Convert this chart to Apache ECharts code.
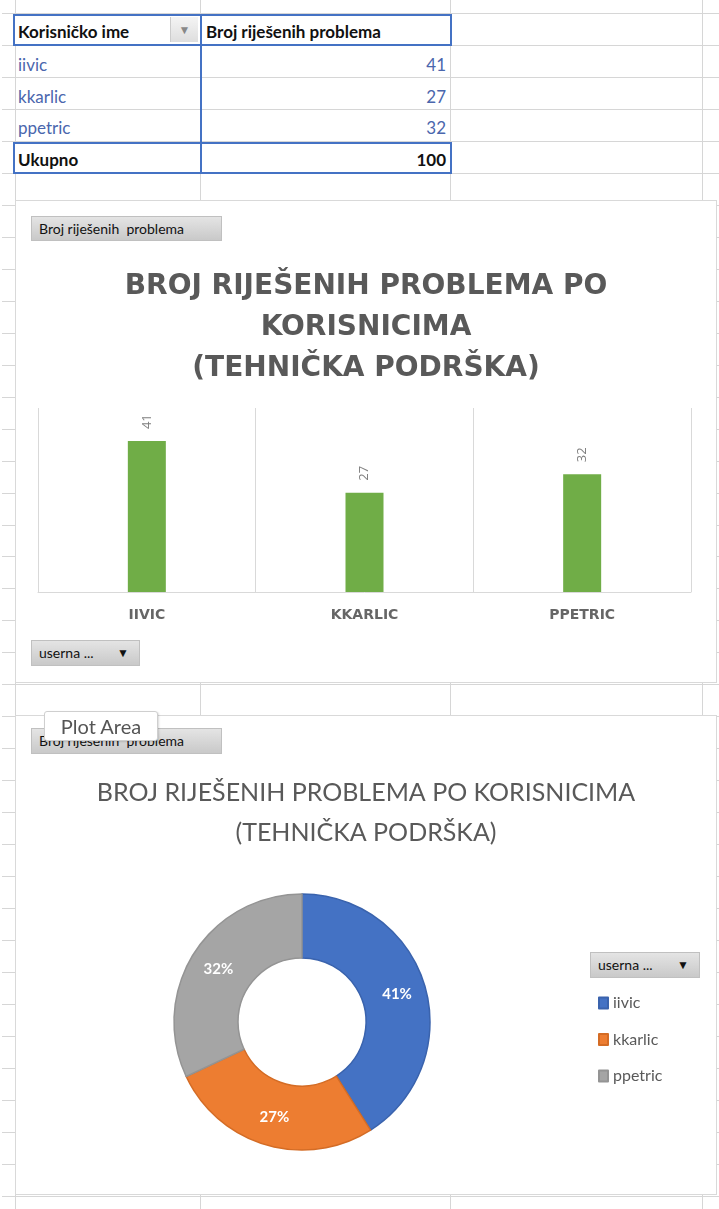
<!DOCTYPE html>
<html>
<head>
<meta charset="utf-8">
<script src="https://cdn.jsdelivr.net/npm/echarts@6/dist/echarts.min.js"></script>
<style>
    body { margin: 0; background: #fff; width: 719px; height: 1209px; position: relative; overflow: hidden; font-family: Lato, "Open Sans", sans-serif; }
    .gl { position: absolute; background: #d6d6d6; }
    .cell { position: absolute; font-size: 17px; line-height: 30px; white-space: nowrap; }
    .chartbox { position: absolute; background: #fff; border: 1px solid #d9d9d9; z-index: 2; }
    .btn { position: absolute; z-index: 3; background: linear-gradient(#e4e4e4, #c9c9c9); border: 1px solid #c0c0c0; font-size: 14px; color: #111; line-height: 24px; padding-left: 7px; box-sizing: border-box; white-space: nowrap; }
    .btn .arr { position: absolute; right: 10px; top: 0; font-size: 12px; }
</style>
</head>
<body>
<div id="sheet"></div>

<div id="bar" class="chartbox" style="left:15px;top:200px;width:700px;height:481px"></div>
<div id="pie" class="chartbox" style="left:15px;top:715px;width:700px;height:478px"></div>

<div class="btn" style="left:31px;top:216px;width:191px;height:25px">Broj riješenih&nbsp; problema</div>
<div class="btn" style="left:31px;top:640px;width:109px;height:26px">userna ...<span class="arr">▼</span></div>
<div class="btn" style="left:31px;top:728px;width:191px;height:26px">Broj riješenih&nbsp; problema</div>
<div class="btn" style="left:590px;top:952px;width:110px;height:26px">userna ...<span class="arr">▼</span></div>
<div style="position:absolute;z-index:4;left:44px;top:711px;width:112px;height:28px;background:#fff;border:1px solid #cfcfcf;border-radius:3px;box-shadow:1px 1px 2px rgba(0,0,0,0.15);color:#555;font-size:20px;line-height:28px;text-align:center">Plot Area</div>

<script>
    // podaci iz tablice
    var korisnici = ['iivic', 'kkarlic', 'ppetric'];
    var rijeseno = [41, 27, 32];
    var boje = ['#4472C4', '#ED7D31', '#A5A5A5'];
    var rubovi = ['#3a63ad', '#d46c25', '#949494'];
    var naslov1 = 'BROJ RIJEŠENIH PROBLEMA PO\nKORISNICIMA\n(TEHNIČKA PODRŠKA)';
    var naslov2 = 'BROJ RIJEŠENIH PROBLEMA PO KORISNICIMA\n(TEHNIČKA PODRŠKA)';

    // excel mreza u pozadini
    var sheet = document.getElementById('sheet');
    var html = '';
    for (var k = 0; k < 38; k++) {
        var y = Math.round(13 + k * 31.97);
        html += '<div class="gl" style="left:15px;top:' + y + 'px;width:704px;height:1px"></div>';
        html += '<div class="gl" style="left:2px;top:' + y + 'px;width:13px;height:1px"></div>';
    }
    html += '<div class="gl" style="left:15px;top:0;width:1px;height:1209px"></div>';
    [200, 450, 702].forEach(function (x) {
        html += '<div class="gl" style="left:' + x + 'px;top:0;width:1px;height:1209px"></div>';
    });

    // tablica
    var total = rijeseno.reduce(function (a, b) { return a + b; }, 0);
    html += '<div style="position:absolute;left:13px;top:14px;width:435px;height:28px;border:2px solid #4472C4;background:#fff"></div>';
    html += '<div style="position:absolute;left:13px;top:142px;width:435px;height:28px;border:2px solid #4472C4;background:#fff"></div>';
    html += '<div style="position:absolute;left:200px;top:14px;width:2px;height:160px;background:#4472C4;z-index:1"></div>';
    html += '<div style="position:absolute;left:170px;top:17px;width:27px;height:25px;background:linear-gradient(#f4f4f4,#dedede);border-left:1px solid #ccc;color:#888;font-size:12px;line-height:25px;text-align:center">▼</div>';
    html += '<div class="cell" style="left:18px;top:17px;font-weight:bold;color:#111">Korisničko ime</div>';
    html += '<div class="cell" style="left:206px;top:17px;font-weight:bold;color:#111">Broj riješenih problema</div>';
    var rowY = [50, 82, 113];
    korisnici.forEach(function (n, i) {
        html += '<div class="cell" style="left:18px;top:' + rowY[i] + 'px;color:#4a66ad">' + n + '</div>';
        html += '<div class="cell" style="left:206px;width:240px;text-align:right;top:' + rowY[i] + 'px;color:#4a66ad">' + rijeseno[i] + '</div>';
    });
    html += '<div class="cell" style="left:18px;top:145px;font-weight:bold;color:#111">Ukupno</div>';
    html += '<div class="cell" style="left:206px;width:240px;text-align:right;top:145px;font-weight:bold;color:#111">' + total + '</div>';
    sheet.innerHTML = html;

    // stupcasti graf
    var barChart = echarts.init(document.getElementById('bar'));
    barChart.setOption({
        animation: false,
        title: {
            text: naslov1,
            left: 'center',
            top: 60,
            textStyle: { fontFamily: 'DejaVu Sans', fontWeight: 'bold', fontSize: 28, lineHeight: 41, color: '#595959' }
        },
        grid: { left: 22, right: 25, top: 207, bottom: 90 },
        xAxis: {
            type: 'category',
            data: korisnici.map(function (s) { return s.toUpperCase(); }),
            axisLine: { lineStyle: { color: '#d9d9d9' } },
            axisTick: { show: false },
            splitLine: { show: true, lineStyle: { color: '#d9d9d9' } },
            axisLabel: { margin: 16, fontFamily: 'DejaVu Sans', fontWeight: 'bold', fontSize: 14, color: '#666' }
        },
        yAxis: {
            type: 'value',
            min: 0,
            max: 50,
            show: false
        },
        series: [{
            type: 'bar',
            data: rijeseno,
            barWidth: 38,
            itemStyle: { color: '#70AD47' },
            label: {
                show: true,
                position: 'top',
                rotate: 90,
                align: 'left',
                verticalAlign: 'middle',
                distance: 12,
                fontFamily: 'Open Sans',
                fontSize: 13,
                color: '#7f7f7f'
            }
        }]
    });

    // prstenasti graf
    var pieChart = echarts.init(document.getElementById('pie'));
    pieChart.setOption({
        animation: false,
        title: {
            text: naslov2,
            left: 'center',
            top: 52,
            textStyle: { fontFamily: 'Lato', fontWeight: 'normal', fontSize: 25, lineHeight: 40, color: '#595959' }
        },
        legend: {
            orient: 'vertical',
            left: 577,
            top: 274,
            itemWidth: 9,
            itemHeight: 11,
            itemGap: 20.5,
            icon: 'rect',
            textStyle: { fontFamily: 'Lato', fontSize: 16, color: '#595959' },
            data: korisnici
        },
        series: [{
            type: 'pie',
            center: [286, 306],
            radius: [64, 128],
            startAngle: 90,
            data: korisnici.map(function (n, i) {
                return { name: n, value: rijeseno[i], itemStyle: { color: boje[i], borderColor: rubovi[i], borderWidth: 1.5 } };
            }),
            label: {
                show: true,
                position: 'inside',
                formatter: '{d}%',
                fontFamily: 'Lato',
                fontWeight: 'bold',
                fontSize: 15,
                color: '#fff'
            },
            labelLine: { show: false }
        }]
    });
</script>
</body>
</html>
